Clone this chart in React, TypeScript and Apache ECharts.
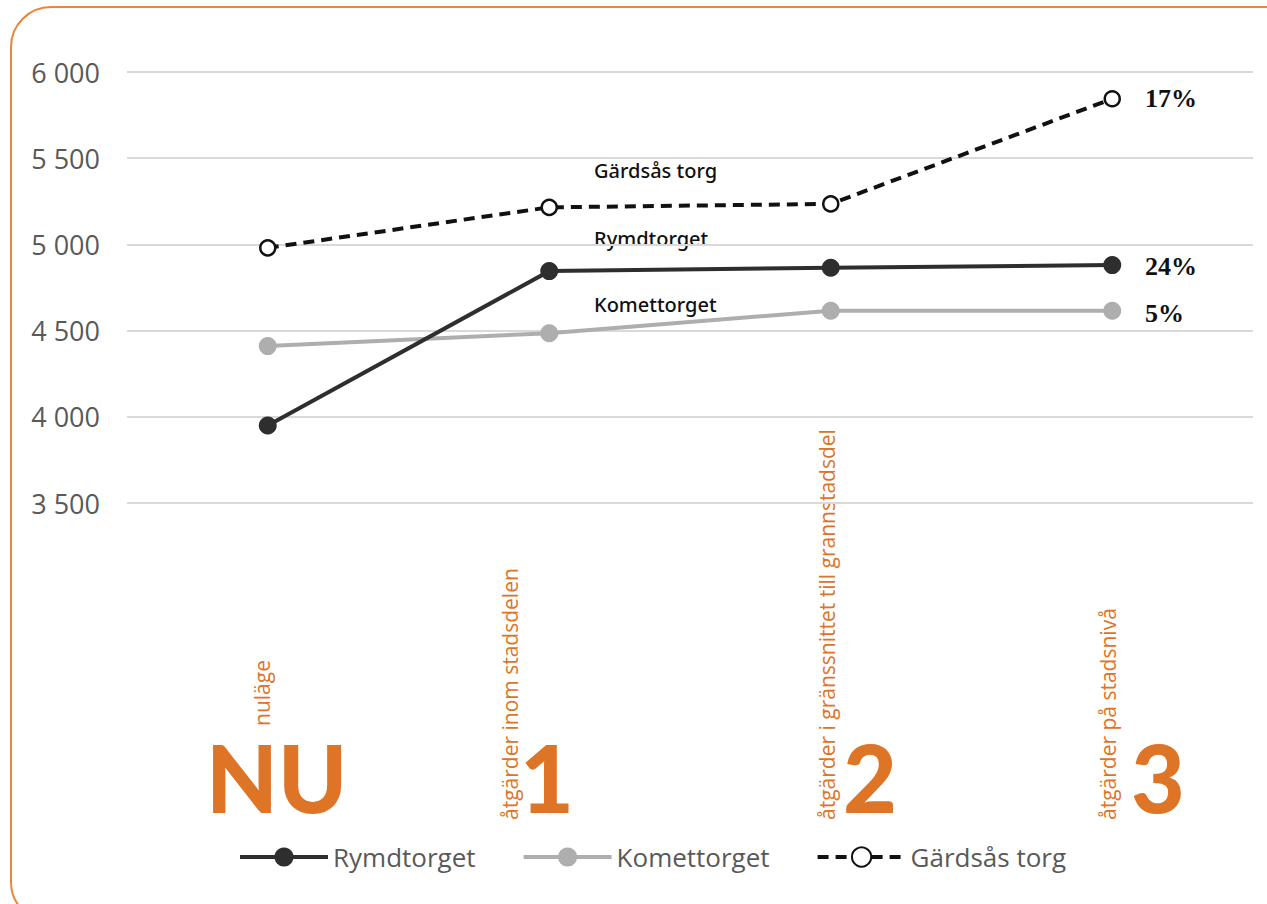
import React, { useEffect, useRef } from "react";
import * as echarts from "echarts";

const categories = ["nuläge", "åtgärder inom stadsdelen", "åtgärder i gränssnittet till grannstadsdel", "åtgärder på stadsnivå"];
const stepLabels = ["NU", "1", "2", "3"];
const rymdtorget = [3950, 4845, 4865, 4880];
const komettorget = [4410, 4485, 4615, 4615];
const gardsas = [4980, 5215, 5235, 5845];
const seriesNames = ["Rymdtorget", "Komettorget", "Gärdsås torg"];
const changeLabels = ["24%", "5%", "17%"];
const yTicks = { min: 3500, max: 6000, interval: 500 };

const ORANGE = "#DE7426";

export default function App() {
  const ref = useRef<HTMLDivElement>(null);
  useEffect(() => {
    const chart = echarts.init(ref.current!, null, { renderer: "svg" });
    const stepX = [206, 520, 843, 1131];
    const descX = [262, 510, 827, 1108];
    const descBottom = [726, 820, 820, 820];
    const graphic: any[] = [
      {
        type: "rect",
        shape: { x: 11, y: 7, width: 1300, height: 915, r: 40 },
        style: { fill: "none", stroke: "#E8873A", lineWidth: 2 },
        silent: true,
      },
    ];
    stepLabels.forEach((s, i) => {
      graphic.push({
        type: "text",
        x: stepX[i],
        y: 823,
        style: {
          text: s,
          fill: ORANGE,
          font: "900 93px Lato",
          textAlign: "left",
          textVerticalAlign: "bottom",
        },
      });
    });
    categories.forEach((c, i) => {
      graphic.push({
        type: "text",
        x: descX[i],
        y: descBottom[i],
        rotation: Math.PI / 2,
        style: {
          text: c,
          fill: ORANGE,
          font: "21px 'Open Sans'",
          textAlign: "left",
          textVerticalAlign: "middle",
        },
      });
    });
    const annY = [238, 304, 170];
    seriesNames.forEach((n, i) => {
      graphic.push({
        type: "text",
        x: 594,
        y: annY[i],
        style: {
          text: n,
          fill: "#111",
          font: "500 20px 'Noto Sans'",
          textAlign: "left",
          textVerticalAlign: "middle",
        },
      });
    });
    const pctY = [266, 313, 98];
    changeLabels.forEach((p, i) => {
      graphic.push({
        type: "text",
        x: 1145,
        y: pctY[i],
        style: {
          text: p,
          fill: "#111",
          font: "bold 26px 'Liberation Serif'",
          textAlign: "left",
          textVerticalAlign: "middle",
        },
      });
    });

    const legendColors = ["#2E2E2E", "#AEAEAE", "#111"];
    chart.setOption({
      animation: false,
      grid: { left: 127, right: 14, top: 72, bottom: 401, containLabel: false },
      legend: {
        left: 233,
        top: 839,
        itemWidth: 88,
        itemHeight: 24,
        itemGap: 46,
        textStyle: { color: "#595959", fontSize: 26, fontFamily: "'Open Sans'", padding: [0, 0, 0, 0] },
        data: seriesNames.map((n, i) => ({
          name: n,
          lineStyle: { width: 4, color: legendColors[i] },
        })),
      },
      xAxis: {
        type: "category",
        data: categories,
        boundaryGap: true,
        axisLine: { show: false },
        axisTick: { show: false },
        axisLabel: { show: false },
      },
      yAxis: {
        type: "value",
        min: yTicks.min,
        max: yTicks.max,
        interval: yTicks.interval,
        axisLabel: {
          color: "#595959",
          fontSize: 27,
          fontFamily: "'Open Sans'",
          margin: 27,
          formatter: (v: number) => v.toLocaleString("en-US").replace(",", " "),
        },
        splitLine: { lineStyle: { color: "#D9D9D9", width: 2 } },
        axisLine: { show: false },
        axisTick: { show: false },
      },
      series: [
        {
          name: seriesNames[0],
          type: "line",
          data: rymdtorget,
          symbol: "circle",
          symbolSize: 18,
          lineStyle: { color: "#2E2E2E", width: 4 },
          itemStyle: { color: "#2E2E2E" },
          z: 3,
        },
        {
          name: seriesNames[1],
          type: "line",
          data: komettorget,
          symbol: "circle",
          symbolSize: 18,
          lineStyle: { color: "#AEAEAE", width: 4 },
          itemStyle: { color: "#AEAEAE" },
          z: 2,
        },
        {
          name: seriesNames[2],
          type: "line",
          data: gardsas,
          symbol: "circle",
          symbolSize: 15,
          showAllSymbol: true,
          lineStyle: { color: "#111", width: 4, type: [11, 7] },
          itemStyle: { color: "#fff", borderColor: "#111", borderWidth: 2.5 },
          z: 4,
        },
      ],
      graphic,
    });
    return () => chart.dispose();
  }, []);
  return (
    <div
      ref={ref}
      style={{ position: "absolute", left: 0, top: 0, width: 1267, height: 904, background: "#fff" }}
    />
  );
}
